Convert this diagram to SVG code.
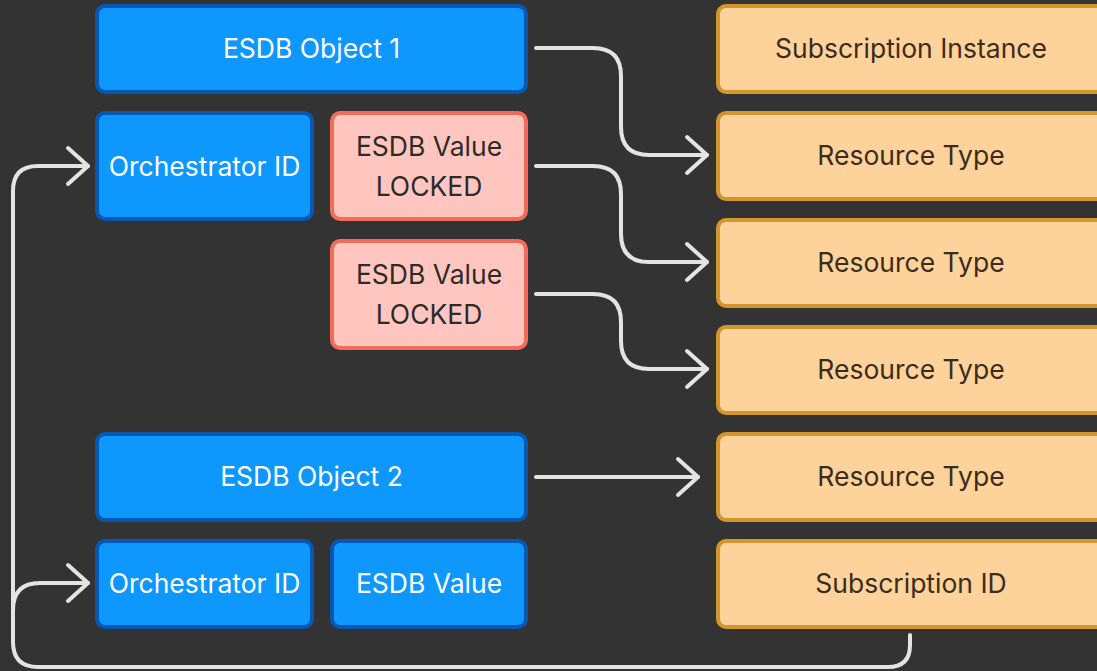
<svg xmlns="http://www.w3.org/2000/svg" width="1097" height="671" viewBox="0 0 1097 671">
<style>
text{font-family:Inter,"Noto Sans","Liberation Sans",sans-serif;font-size:26.5px;text-anchor:middle;dominant-baseline:central}
.blue rect{fill:#0e97fd;stroke:#0758b3;stroke-width:4}
.blue text{fill:#ffffff}
.red rect{fill:#ffc6c0;stroke:#f26b5b;stroke-width:4}
.red text{fill:#2e2a28}
.org rect{fill:#fdd29b;stroke:#d3962f;stroke-width:4}
.org text{fill:#3b2c1c}
.conn path{fill:none;stroke:#e4e4e4;stroke-width:4;stroke-linecap:round;stroke-linejoin:round}
</style>
<defs>
<marker id="arr" markerUnits="userSpaceOnUse" viewBox="-24 -22 28 44" refX="0" refY="0" markerWidth="28" markerHeight="44" orient="auto">
<path d="M-20,-18 L0,0 L-20,18" fill="none" stroke="#e4e4e4" stroke-width="4" stroke-linecap="round" stroke-linejoin="round"/>
</marker>
</defs>
<rect width="1097" height="671" fill="#333333"/>
<g class="blue" id="esdb-object-1"><rect x="97" y="6" width="429" height="86" rx="8"/><text x="311.5" y="48">ESDB Object 1</text></g>
<g class="blue" id="orchestrator-id-1"><rect x="97" y="113" width="215" height="106" rx="8"/><text x="204.5" y="166">Orchestrator ID</text></g>
<g class="red" id="esdb-value-locked-1"><rect x="332" y="113" width="194" height="106" rx="8"/><text x="429" y="146">ESDB Value</text><text x="429" y="186">LOCKED</text></g>
<g class="red" id="esdb-value-locked-2"><rect x="332" y="241" width="194" height="107" rx="8"/><text x="429" y="274">ESDB Value</text><text x="429" y="314">LOCKED</text></g>
<g class="blue" id="esdb-object-2"><rect x="97" y="434" width="429" height="86" rx="8"/><text x="311.5" y="476">ESDB Object 2</text></g>
<g class="blue" id="orchestrator-id-2"><rect x="97" y="541" width="215" height="86" rx="8"/><text x="204.5" y="583">Orchestrator ID</text></g>
<g class="blue" id="esdb-value"><rect x="332" y="541" width="194" height="86" rx="8"/><text x="429" y="583">ESDB Value</text></g>
<g class="org" id="subscription-instance"><rect x="718" y="6" width="390" height="86" rx="8"/><text x="911" y="48">Subscription Instance</text></g>
<g class="org" id="resource-type-1"><rect x="718" y="113" width="390" height="86" rx="8"/><text x="911" y="155">Resource Type</text></g>
<g class="org" id="resource-type-2"><rect x="718" y="220" width="390" height="86" rx="8"/><text x="911" y="262">Resource Type</text></g>
<g class="org" id="resource-type-3"><rect x="718" y="327" width="390" height="86" rx="8"/><text x="911" y="369">Resource Type</text></g>
<g class="org" id="resource-type-4"><rect x="718" y="434" width="390" height="86" rx="8"/><text x="911" y="476">Resource Type</text></g>
<g class="org" id="subscription-id"><rect x="718" y="541" width="390" height="86" rx="8"/><text x="911" y="583">Subscription ID</text></g>
<g class="conn" id="connectors">
<path d="M536,48 H593 Q621,48 621,76 V127 Q621,155 649,155 H707" marker-end="url(#arr)"/>
<path d="M536,166 H593 Q621,166 621,194 V234 Q621,262 649,262 H707" marker-end="url(#arr)"/>
<path d="M536,294 H593 Q621,294 621,322 V341 Q621,369 649,369 H707" marker-end="url(#arr)"/>
<path d="M536,477 H698" marker-end="url(#arr)"/>
<path d="M910,635 V645 Q910,667 888,667 H38 Q13,667 13,642 V191 Q13,166 38,166 H88" marker-end="url(#arr)"/>
<path d="M13,610 Q13,583 40,583 H88" marker-end="url(#arr)"/>
</g>
</svg>
